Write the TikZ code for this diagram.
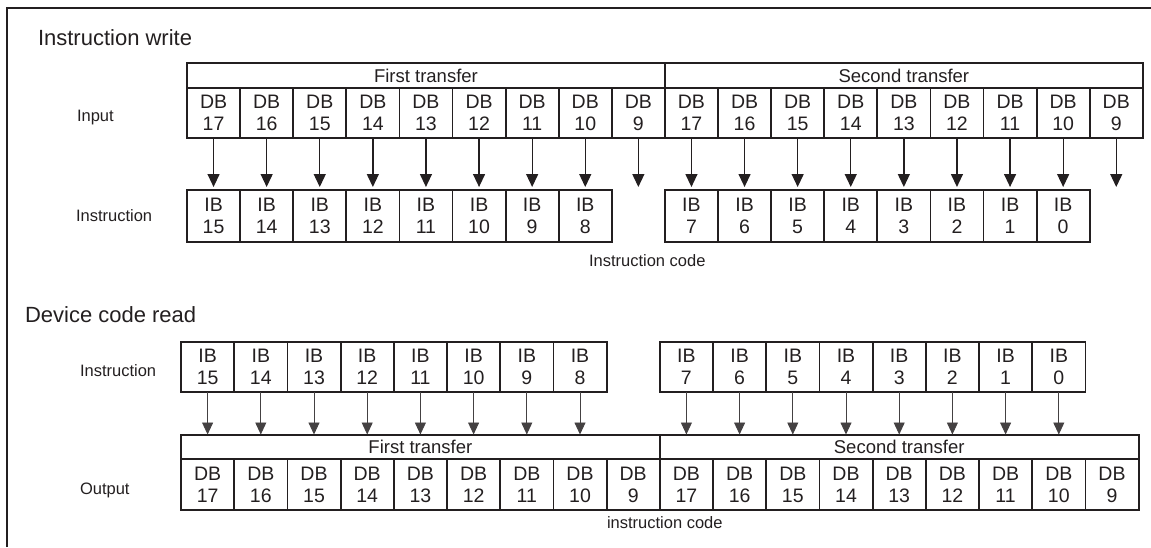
\documentclass[tikz,border=0pt]{standalone}
\usepackage{fontspec}
\setmainfont{Liberation Sans}
\usetikzlibrary{arrows.meta,positioning,calc}
\definecolor{inkgray}{RGB}{35,31,32}

\begin{document}
\begin{tikzpicture}[x=1pt,y=-1pt,
  every node/.style={inner sep=0pt,outer sep=0pt,text=inkgray},
  cell/.style={draw=inkgray,line width=1.8pt,anchor=north west,
             minimum width=53.1pt,minimum height=50pt,align=center,
             font=\fontsize{19.5}{22}\selectfont},
  head/.style={cell,minimum height=25pt,font=\fontsize{18.5}{20}\selectfont},
  lab/.style={anchor=base west,font=\fontsize{16.5}{18}\selectfont},
  ttl/.style={anchor=base west,font=\fontsize{22}{24}\selectfont},
  warr/.style={-{Triangle[length=13pt,width=12pt]},line width=1.3pt,inkgray,
               shorten >=3pt},
  rarr/.style={-{Triangle[length=12pt,width=11pt]},line width=0.9pt,inkgray!85,
               shorten >=0.5pt},
]
\useasboundingbox (0,0) rectangle (1151,547);
\draw[inkgray,line width=2pt] (7,547) -- (7,8) -- (1151,8);

%% ── Instruction write ───────────────────────────────────────────────────
\node[ttl] (wtitle) at (38,45.7) {Instruction write};
\node[lab] (win)  at (77,121.5) {Input};
\node[lab] (wins) at (76,221.7) {Instruction};

\node[head,minimum width=477.9pt] (wfirst)  at (187,63) {First transfer};
\node[head,minimum width=477.9pt] (wsecond) at (664.9,63) {Second transfer};

\foreach \n [count=\i] in {17,16,15,14,13,12,11,10,9,17,16,15,14,13,12,11,10,9}
  \node[cell] (wdb\i) at ({187+(\i-1)*53.1},88) {DB\\\n};
\foreach \n [count=\i] in {15,14,13,12,11,10,9,8}
  \node[cell,minimum height=52pt] (wib\i) at ({187+(\i-1)*53.1},190) {IB\\\n};
\foreach \n [count=\i from 10] in {7,6,5,4,3,2,1,0}
  \node[cell,minimum height=52pt] (wib\i) at ({187+(\i-1)*53.1},190) {IB\\\n};

%% DB bits into IB bits (DB9 goes nowhere)
\foreach \i in {1,2,3,4,5,6,7,8,10,11,12,13,14,15,16,17}
  \draw[warr] (wdb\i.south) -- (wib\i.north);
\coordinate (wend9)  at (wdb9.south  |- wib1.north);
\coordinate (wend18) at (wdb18.south |- wib1.north);
\draw[warr] (wdb9.south)  -- (wend9);
\draw[warr] (wdb18.south) -- (wend18);

\node[lab] (wcode) at (589,266) {Instruction code};

%% ── Device code read ────────────────────────────────────────────────────
\node[ttl] (rtitle) at (25,322) {Device code read};
\node[lab] (rins) at (80,376.7) {Instruction};
\node[lab] (rout) at (80,494) {Output};

\foreach \n [count=\i] in {15,14,13,12,11,10,9,8}
  \node[cell,minimum width=53.2pt] (rib\i) at ({181+(\i-1)*53.2},342) {IB\\\n};
\foreach \n [count=\i from 10] in {7,6,5,4,3,2,1,0}
  \node[cell,minimum width=53.2pt] (rib\i) at ({181+(\i-1)*53.2},342) {IB\\\n};

\node[head,minimum width=478.8pt,minimum height=24pt] (rfirst)  at (181,435) {First transfer};
\node[head,minimum width=478.8pt,minimum height=24pt] (rsecond) at (659.8,435) {Second transfer};

\foreach \n [count=\i] in {17,16,15,14,13,12,11,10,9,17,16,15,14,13,12,11,10,9}
  \node[cell,minimum width=53.2pt,minimum height=51pt] (rdb\i) at ({181+(\i-1)*53.2},459) {DB\\\n};

%% IB bits back onto the output bus
\foreach \i in {1,2,3,4,5,6,7,8,10,11,12,13,14,15,16,17}
  \draw[rarr] (rib\i.south) -- (rib\i.south |- rfirst.north);

\node[lab] (rcode) at (607,528) {instruction code};

\end{tikzpicture}
\end{document}
